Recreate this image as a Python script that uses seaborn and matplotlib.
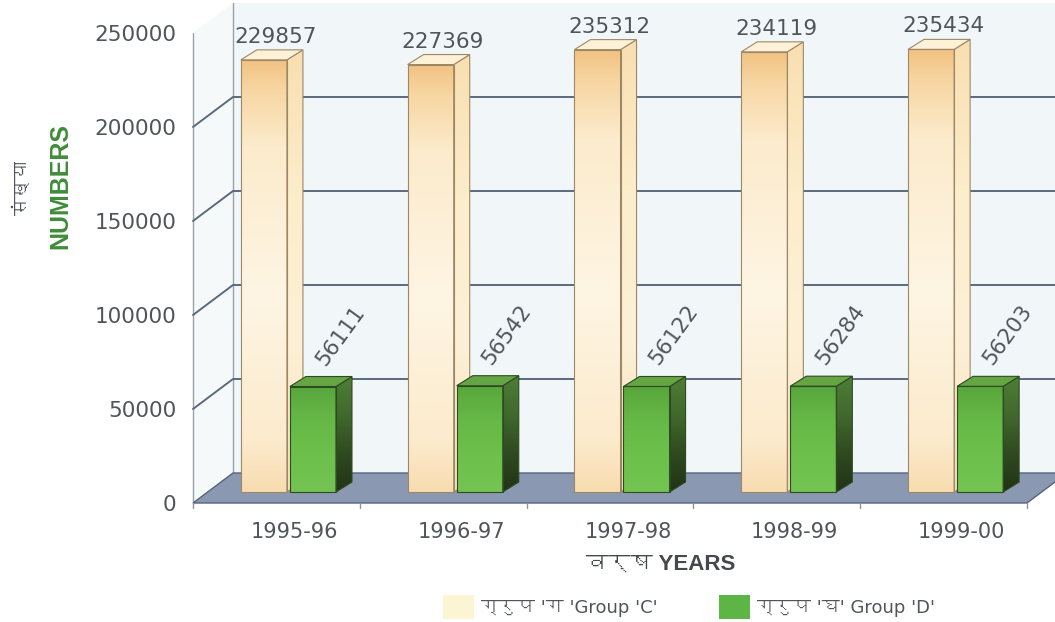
import numpy as np
import pandas as pd
import seaborn as sns
import matplotlib
matplotlib.use("Agg")
import matplotlib.pyplot as plt
from matplotlib import font_manager
from matplotlib.ft2font import FT2Font
from matplotlib.patches import Polygon, Patch
from matplotlib.lines import Line2D
from matplotlib.transforms import IdentityTransform, ScaledTranslation
from matplotlib.colors import LinearSegmentedColormap

# ---------------- data ----------------
years = ["1995-96", "1996-97", "1997-98", "1998-99", "1999-00"]
group_c = [229857, 227369, 235312, 234119, 235434]
group_d = [56111, 56542, 56122, 56284, 56203]
y_ticks = [0, 50000, 100000, 150000, 200000, 250000]

label_c = "ग्रुप 'ग 'Group 'C'"
label_d = "ग्रुप 'घ' Group 'D'"
y_title_hi = "संख्या"
y_title_en = "NUMBERS"
x_title = "वर्ष YEARS"

# ---------------- fonts ----------------
sns.set_theme(style="white")


def family_with(char):
    seen = set()
    for entry in font_manager.fontManager.ttflist:
        if entry.fname in seen:
            continue
        seen.add(entry.fname)
        try:
            if ord(char) in FT2Font(entry.fname).get_charmap():
                return entry.name
        except Exception:
            continue
    return None


deva = family_with("स")
families = ["DejaVu Sans"] + ([deva] if deva else [])
plt.rcParams["font.family"] = families

# ---------------- colours ----------------
C_FRONT = "#fbe6c0"
D_FRONT = "#68bd48"
C_TOP = "#fdf1d8"
D_TOP = "#65a544"
C_EDGE = "#9c8866"
D_EDGE = "#2d4a22"
cmap_c_front = LinearSegmentedColormap.from_list(
    "cfront", [(0.0, "#f8dcb0"), (0.12, "#fcebcd"), (0.45, "#fef5e3"),
               (0.8, "#fcebcc"), (0.93, "#f7d6a2"), (1.0, "#f2c282")])
cmap_c_side = LinearSegmentedColormap.from_list(
    "cside", ["#f9e2bd", "#fcf0d6", "#fcedcb", "#f9dfb0"])
cmap_d_front = LinearSegmentedColormap.from_list(
    "dfront", ["#74c453", "#6cc04b", "#66b946", "#58a63c"])
cmap_d_side = LinearSegmentedColormap.from_list(
    "dside", ["#223216", "#2f4a20", "#41692d", "#4f7e37"])

WALL = "#f1f6f8"
SIDE_WALL = "#f5f9fa"
FLOOR = "#8a99b1"
FLOOR_EDGE = "#56657b"
GRID = "#5a6a7d"
TEXT = "#50555b"

# ---------------- figure ----------------
DPI = 100
fig = plt.figure(figsize=(10.55, 6.22), dpi=DPI)
fig.patch.set_facecolor("white")
ax = fig.add_axes([193 / 1055, 119 / 622, 834 / 1055, 470 / 622])
ax.patch.set_visible(False)

df = pd.DataFrame({
    "year": years * 2,
    "count": group_c + group_d,
    "group": [label_c] * len(years) + [label_d] * len(years),
})
sns.barplot(data=df, x="year", y="count", hue="group", order=years,
            hue_order=[label_c, label_d], palette=[C_FRONT, D_FRONT],
            width=0.588, gap=0.06, saturation=1, errorbar=None,
            legend=False, ax=ax)

ax.set_xlim(-0.5, len(years) - 0.5)
ax.set_ylim(y_ticks[0], y_ticks[-1])
ax.set_autoscale_on(False)
for s in ax.spines.values():
    s.set_visible(False)

ax.set_yticks(y_ticks)
ax.set_yticklabels([str(v) for v in y_ticks])
ax.tick_params(axis="y", length=0, pad=12, labelsize=15.5, labelcolor=TEXT)
ax.set_xticks([])
ax.set_xlabel("")
ax.set_ylabel("")

PX = IdentityTransform()
BACK = np.array([40.0, 30.0])     # depth of the floor / walls
SHIFT = np.array([12.0, 11.0])    # bars sit part way into the floor
DEPTH = np.array([16.0, 10.0])    # thickness of each bar


def px(x, y):
    return np.asarray(ax.transData.transform((x, y)), dtype=float)


def poly(pts, **kw):
    p = Polygon(np.array(pts), closed=True, transform=PX, clip_on=False, **kw)
    ax.add_patch(p)
    return p


def gradient(pts, clip, cmap, z):
    pts = np.array(pts)
    grad = np.linspace(0, 1, 256).reshape(-1, 1)
    im = ax.imshow(grad, extent=[pts[:, 0].min(), pts[:, 0].max(),
                                 pts[:, 1].min(), pts[:, 1].max()],
                   origin="lower", cmap=cmap, aspect="auto",
                   interpolation="bilinear", transform=PX, zorder=z)
    im.set_clip_path(clip)
    return im


x_lo, x_hi = ax.get_xlim()
y_top = y_ticks[-1]
fl, fr = px(x_lo, 0), px(x_hi, 0)
tl, tr = px(x_lo, y_top), px(x_hi, y_top)

# back wall and left wall
poly([fl + BACK, fr + BACK + [80, 0], tr + BACK + [80, 0], tl + BACK],
     facecolor=WALL, edgecolor="none", zorder=0.5)
poly([fl, tl, tl + BACK, fl + BACK], facecolor=SIDE_WALL,
     edgecolor="none", zorder=0.6)
ax.add_line(Line2D([fl[0], tl[0]], [fl[1], tl[1]], transform=PX,
                   color="#9aa1a8", lw=1.0, clip_on=False, zorder=0.7))
ax.add_line(Line2D([fl[0] + BACK[0], tl[0] + BACK[0]],
                   [fl[1] + BACK[1], tl[1] + BACK[1]], transform=PX,
                   color="#9aa1a8", lw=1.0, clip_on=False, zorder=0.7))

# gridlines running along the left wall and the back wall
for v in y_ticks[1:-1]:
    a = px(x_lo, v)
    b = a + BACK
    c = px(x_hi, v) + BACK + [80, 0]
    ax.add_line(Line2D([a[0], b[0], c[0]], [a[1], b[1], c[1]], transform=PX,
                       color=GRID, lw=1.4, clip_on=False, zorder=0.8))

# floor
poly([fl, fr, fr + BACK, fl + BACK], facecolor=FLOOR,
     edgecolor=FLOOR_EDGE, lw=1.0, zorder=1)

# category ticks along the front edge of the floor
for k in range(len(years) + 1):
    p = px(x_lo + k, 0)
    ax.add_line(Line2D([p[0], p[0]], [p[1], p[1] - 5], transform=PX,
                       color="#8d949c", lw=1.0, clip_on=False, zorder=1.1))

# ---------------- 3-D bars ----------------
styles = [
    dict(front=cmap_c_front, side=cmap_c_side, top=C_TOP, edge=C_EDGE, z=3),
    dict(front=cmap_d_front, side=cmap_d_side, top=D_TOP, edge=D_EDGE, z=4),
]
shift_tr = ax.transData + ScaledTranslation(SHIFT[0] / DPI, SHIFT[1] / DPI,
                                            fig.dpi_scale_trans)
for container, st in zip(ax.containers, styles):
    z = st["z"]
    for bar in container:
        x0, w, h = bar.get_x(), bar.get_width(), bar.get_height()
        bl = px(x0, 0) + SHIFT
        br = px(x0 + w, 0) + SHIFT
        trr = px(x0 + w, h) + SHIFT
        tll = px(x0, h) + SHIFT
        bar.set_transform(shift_tr)
        bar.set_edgecolor("none")
        bar.set_clip_on(False)
        bar.set_zorder(z)
        gradient([bl, br, trr, tll], bar, st["front"], z + 0.05)
        side = poly([br, trr, trr + DEPTH, br + DEPTH], facecolor="none",
                    edgecolor="none", zorder=z + 0.1)
        gradient([br, trr, trr + DEPTH, br + DEPTH], side, st["side"], z + 0.12)
        poly([br, trr, trr + DEPTH, br + DEPTH], fill=False,
             edgecolor=st["edge"], lw=0.8, zorder=z + 0.2)
        poly([tll, trr, trr + DEPTH, tll + DEPTH], facecolor=st["top"],
             edgecolor=st["edge"], lw=0.8, zorder=z + 0.2)
        poly([bl, br, trr, tll], fill=False, edgecolor=st["edge"], lw=0.8,
             zorder=z + 0.25)

# value labels
PT = 72 / DPI
for bar in ax.containers[0]:
    ax.annotate(f"{int(round(bar.get_height()))}",
                xy=(bar.get_x() + bar.get_width() / 2, bar.get_height()),
                xytext=(24 * PT, 28 * PT), textcoords="offset points",
                ha="center", va="baseline", fontsize=15.5, color=TEXT,
                zorder=6, annotation_clip=False)
for bar in ax.containers[1]:
    ax.annotate(f"{int(round(bar.get_height()))}",
                xy=(bar.get_x() + bar.get_width() / 2, bar.get_height()),
                xytext=(24 * PT, 31 * PT), textcoords="offset points",
                ha="left", va="baseline", rotation=54, rotation_mode="anchor",
                fontsize=15.5, color=TEXT, zorder=6, annotation_clip=False)

# category labels under the floor
for i, yr in enumerate(years):
    ax.annotate(yr, xy=(i, 0), xytext=(18 * PT, -19 * PT),
                textcoords="offset points", ha="center", va="top",
                fontsize=15, color=TEXT, annotation_clip=False)

# axis titles
fig.text(23 / 1055, 1 - 188 / 622, y_title_hi, rotation=90, ha="center",
         va="center", fontsize=13, color=TEXT)
fig.text(60 / 1055, 1 - 186 / 622, y_title_en, rotation=90, ha="center",
         va="center", fontsize=18, fontweight="bold", color="#3f8c3a",
         family=["Liberation Sans"] + families)
fig.text(661 / 1055, 1 - 564 / 622, x_title, ha="center", va="center",
         fontsize=16, fontweight="bold", color="#45494e",
         family=["Liberation Sans"] + families)

# legend
handles = [Patch(facecolor="#fcf5d4", edgecolor="none"),
           Patch(facecolor="#5cb545", edgecolor="none")]
fig.legend(handles, [label_c, label_d], loc="center left",
           bbox_to_anchor=(443 / 1055, 1 - 607 / 622), ncol=2, frameon=False,
           fontsize=13, handlelength=1.7, handleheight=1.6, handletextpad=0.4,
           columnspacing=3.4, borderpad=0, borderaxespad=0, labelcolor=TEXT)

fig.savefig("out.png", dpi=DPI, facecolor="white")
